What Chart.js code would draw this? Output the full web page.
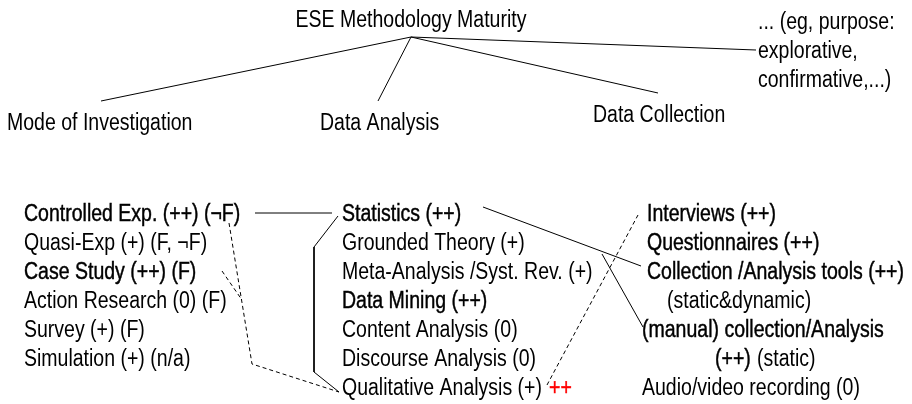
<!DOCTYPE html>
<html>
<head>
<meta charset="utf-8">
<script src="https://cdn.jsdelivr.net/npm/chart.js@4.4.1/dist/chart.umd.min.js"></script>
<style>
  html, body { margin: 0; padding: 0; background: #fff; }
  #wrap { width: 912px; height: 404px; }
</style>
</head>
<body>
<div id="wrap"><canvas id="Chart"></canvas></div>
<script>
// top of the tree
const rootLabel = "ESE Methodology Maturity";
const branchLabels = ["Mode of Investigation", "Data Analysis", "Data Collection"];
const otherLabels = ["... (eg, purpose:", "explorative,", "confirmative,...)"];

// the three lists
const modeItems = ["Controlled Exp. (++) (\u00acF)", "Quasi-Exp (+) (F, \u00acF)", "Case Study (++) (F)",
  "Action Research (0) (F)", "Survey (+) (F)", "Simulation (+) (n/a)"];
const analysisItems = ["Statistics (++)", "Grounded Theory (+)", "Meta-Analysis /Syst. Rev. (+)",
  "Data Mining (++)", "Content Analysis (0)", "Discourse Analysis (0)", "Qualitative Analysis (+)"];
const collectionItems = ["Interviews (++)", "Questionnaires (++)", "Collection /Analysis tools (++)",
  "(static&dynamic)", "(manual) collection/Analysis", "(++)", "(static)", "Audio/video recording (0)"];
const boldItems = ["Controlled Exp. (++) (\u00acF)", "Case Study (++) (F)", "Statistics (++)", "Data Mining (++)",
  "Interviews (++)", "Questionnaires (++)", "Collection /Analysis tools (++)", "(manual) collection/Analysis", "(++)"];
const redMark = "++";

// where things sit on the 912 x 404 grid
const rowY = [221, 250, 279, 308, 337, 366, 395];
const modeX = [24, 24, 24, 24, 24, 24];
const analysisX = [342, 342, 342, 342, 342, 342, 342];
const collectionX = [647, 647, 647, 667, 642, 715, 757, 642];
const collectionRow = [0, 1, 2, 3, 4, 5, 5, 6];

const rootPt = [411, 27];
const branchPts = [[7, 130], [320, 130], [593, 122]];
const otherPts = [[758, 29], [758, 58], [758, 87]];
const redPt = [549, 395];

// connectors
const hub = [411, 37];
const hubEnds = [[101, 101], [378, 101], [658, 93], [756, 50]];
const solidPaths = [
  [[255, 213], [332, 213]],
  [[338, 216], [314, 247], [314, 372], [339, 392]],
  [[483, 207], [641, 266]],
  [[602, 254], [643, 327]]
];
const dashedPaths = [
  [[229, 223], [252, 364], [339, 392]],
  [[222, 271], [242, 300]],
  [[547, 385], [638, 215]]
];

const toPts = arr => arr.map(p => ({x: p[0], y: p[1]}));

const texts = [];
texts.push({t: rootLabel, p: rootPt, align: "center"});
branchLabels.forEach((t, i) => texts.push({t: t, p: branchPts[i]}));
otherLabels.forEach((t, i) => texts.push({t: t, p: otherPts[i]}));
modeItems.forEach((t, i) => texts.push({t: t, p: [modeX[i], rowY[i]]}));
analysisItems.forEach((t, i) => texts.push({t: t, p: [analysisX[i], rowY[i]]}));
collectionItems.forEach((t, i) => texts.push({t: t, p: [collectionX[i], rowY[collectionRow[i]]]}));
texts.push({t: redMark, p: redPt, color: "#ff0000", bold: true});

const datasets = [];
hubEnds.forEach(e => datasets.push({data: toPts([hub, e]), showLine: true, borderColor: "#000", borderWidth: 1, pointRadius: 0}));
solidPaths.forEach(p => datasets.push({data: toPts(p), showLine: true, borderColor: "#000", borderWidth: 1, pointRadius: 0}));
dashedPaths.forEach(p => datasets.push({data: toPts(p), showLine: true, borderColor: "#000", borderWidth: 1, borderDash: [4, 3], pointRadius: 0}));
datasets.push({data: texts.map(o => ({x: o.p[0], y: o.p[1]})), pointRadius: 0, textLabels: texts});

const FONT = '"Liberation Sans", Arial, sans-serif';
const SX = 0.83;

const textPlugin = {
  id: "texts",
  afterDatasetsDraw(chart) {
    const ctx = chart.ctx;
    chart.data.datasets.forEach((ds, di) => {
      if (!ds.textLabels) return;
      const meta = chart.getDatasetMeta(di);
      ds.textLabels.forEach((o, i) => {
        const pt = meta.data[i];
        const bold = o.bold || boldItems.includes(o.t);
        ctx.save();
        ctx.translate(pt.x, pt.y);
        ctx.scale(SX, 1);
        ctx.font = "23.5px " + FONT;
        ctx.textBaseline = "alphabetic";
        ctx.textAlign = o.align || "left";
        ctx.fillStyle = o.color || "#000";
        ctx.fillText(o.t, 0, 0);
        if (bold) {
          ctx.strokeStyle = o.color || "#000";
          ctx.lineWidth = 0.45;
          ctx.strokeText(o.t, 0, 0);
        }
        ctx.restore();
      });
    });
  }
};

new Chart("Chart", {
  type: "scatter",
  data: {datasets: datasets},
  options: {
    responsive: true,
    maintainAspectRatio: false,
    animation: false,
    layout: {padding: 0},
    plugins: {legend: {display: false}, tooltip: {enabled: false}},
    scales: {
      x: {type: "linear", min: 0, max: 912, display: false},
      y: {type: "linear", min: 0, max: 404, reverse: true, display: false}
    }
  },
  plugins: [textPlugin]
});
</script>
</body>
</html>
